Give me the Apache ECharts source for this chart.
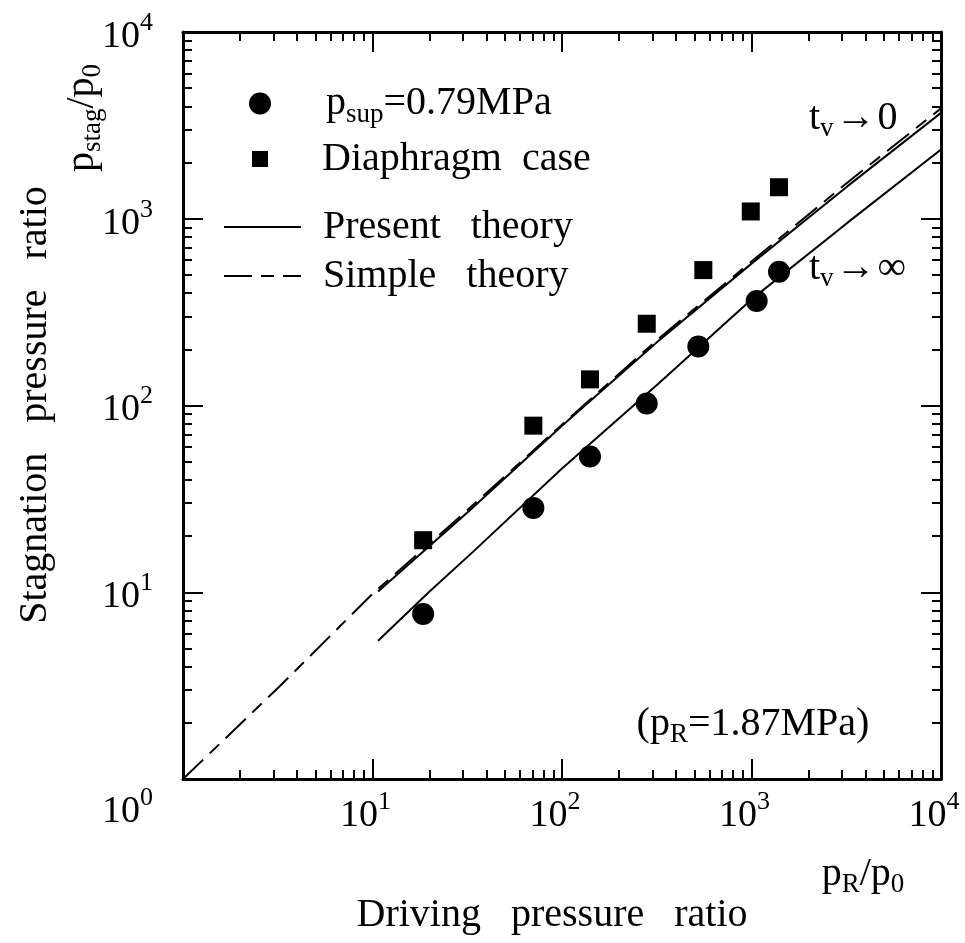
<!DOCTYPE html>
<html><head><meta charset="utf-8">
<script src="https://cdn.jsdelivr.net/npm/echarts@6/dist/echarts.min.js"></script>
<style>html,body{margin:0;padding:0;background:#fff}#c{width:965px;height:943px}</style>
</head><body><div id="c"></div>
<script>
// ---- data ----
const circleX = [18.5, 70.6, 140.5, 280, 524, 1065, 1397];
const circleY = [7.64, 28.3, 53.3, 102.5, 207, 363, 520];
const squareX = [18.5, 70.6, 140.5, 280, 557, 991, 1397];
const squareY = [19.0, 78, 138, 274, 531, 1094, 1475];
const simpleX = [1, 3.2, 10, 32, 100, 320, 1000, 3200, 10000];
const simpleY = [1, 3.1, 9.8, 27.8, 79, 226, 590, 1560, 3900];
const presentUpperX = [10.7, 32, 100, 320, 1000, 3200, 10000];
const presentUpperY = [10.1, 27, 78, 220, 575, 1490, 3690];
const presentLowerX = [10.7, 20, 34, 100, 320, 1000, 3200, 10000];
const presentLowerY = [5.5, 10.1, 16.5, 46, 130, 370, 950, 2350];
const majorTicks = [1, 10, 100, 1000, 10000];
const tickBase = '10';
const tickExps = ['0', '1', '2', '3', '4'];
const seriesNames = ['p_sup=0.79MPa', 'Diaphragm case', 'Present theory', 'Simple theory'];

const FONT = "'Liberation Serif','DejaVu Serif',serif";
const minorTicks = [];
for (const d of [1, 10, 100, 1000]) for (let k = 2; k <= 9; k++) minorTicks.push(k * d);
const zip = (xs, ys) => xs.map((x, i) => [x, ys[i]]);
const expOf = v => tickExps[Math.round(Math.log10(v))];

const axisBase = {type: 'log', logBase: 10, min: 1, max: 10000, splitLine: {show: false}, axisLabel: {show: false}, axisLine: {show: false}};
function majorAxis(pos, labelCfg) {
  return Object.assign({}, axisBase, {position: pos,
    axisLine: {show: true, onZero: false, lineStyle: {color: '#000', width: 3}},
    axisTick: {show: true, inside: true, length: 20, customValues: majorTicks, lineStyle: {color: '#000', width: 2}},
    axisLabel: labelCfg || {show: false}});
}
function minorAxis(pos) {
  return Object.assign({}, axisBase, {position: pos,
    axisTick: {show: true, inside: true, length: 9, customValues: minorTicks, lineStyle: {color: '#000', width: 2}}});
}
const tb = {fontFamily: FONT, fontSize: 38, lineHeight: 40, color: '#000'};
const ts = {fontFamily: FONT, fontSize: 26, lineHeight: 26, color: '#000'};
const xLabels = {show: true, customValues: majorTicks.slice(1), margin: 17, padding: [0, 14, 0, 0],
  formatter: v => `{b|${tickBase}}{s|${expOf(v)}}`,
  rich: {b: tb, s: Object.assign({}, ts, {padding: [0, 0, 28, 0]})}};
const yLabels = {show: true, customValues: majorTicks, margin: 30,
  formatter: v => { const e = expOf(v); return e === tickExps[0] ? `{bz|${tickBase}}{sz|${e}}` : `{b|${tickBase}}{s|${e}}`; },
  rich: {b: Object.assign({}, tb, {padding: [10, 0, 0, 0]}), s: Object.assign({}, ts, {padding: [10, 0, 28, 0]}),
         bz: Object.assign({}, tb, {padding: [66, 0, 0, 0]}), sz: Object.assign({}, ts, {padding: [66, 0, 28, 0]})}};

const rn = {fontFamily: FONT, fontSize: 40, lineHeight: 44, color: '#000'};
const rsub = {fontFamily: FONT, fontSize: 27, lineHeight: 27, color: '#000', padding: [22, 0, 0, 0]};
const rarrow = {fontFamily: FONT, fontSize: 40, lineHeight: 44, color: '#000', padding: [0, 2, 0, 2]};
const richText = {n: rn, sub: rsub, a: rarrow};

const legendText = {
  [seriesNames[0]]: '{n|p}{sub|sup}{n|=0.79MPa}',
  [seriesNames[1]]: '{n|Diaphragm  case}',
  [seriesNames[2]]: '{n|Present   theory}',
  [seriesNames[3]]: '{n|Simple   theory}'
};
function legendItem(name, left, top, w, h, pad, hideSymbol) {
  const l = {data: [name], left: left, top: top, itemWidth: w, itemHeight: h, orient: 'vertical', padding: 0,
    selectedMode: false, formatter: n => legendText[n],
    textStyle: {padding: [0, 0, 0, pad], rich: richText}};
  if (hideSymbol) l.itemStyle = {opacity: 0, borderWidth: 0};
  return l;
}

function txt(x, y, text, opts, align) {
  return Object.assign({type: 'text', x: x, y: y, style: {text: text, rich: richText, align: align || 'center', verticalAlign: 'middle', fill: '#000', font: `40px ${FONT}`}}, opts || {});
}

const option = {
  animation: false,
  backgroundColor: '#fff',
  grid: {left: 183, top: 27, right: 24, bottom: 164, containLabel: false},
  xAxis: [majorAxis('bottom', xLabels), minorAxis('bottom'), majorAxis('top'), minorAxis('top')],
  yAxis: [majorAxis('left', yLabels), minorAxis('left'), majorAxis('right'), minorAxis('right')],
  legend: [
    legendItem(seriesNames[0], 249, 79, 22, 22, 50, false),
    legendItem(seriesNames[1], 252, 139, 16, 16, 49, false),
    legendItem(seriesNames[2], 223, 207, 77, 14, 17, true),
    legendItem(seriesNames[3], 223, 256, 77, 14, 17, true)
  ],
  series: [
    {name: seriesNames[3], type: 'line', data: zip(simpleX, simpleY), symbol: 'none', z: 2,
     lineStyle: {color: '#000', width: 2, type: [28, 9, 13, 9]}, itemStyle: {color: '#000'}},
    {name: seriesNames[2], type: 'line', data: zip(presentUpperX, presentUpperY), symbol: 'none', z: 2,
     lineStyle: {color: '#000', width: 2, type: 'solid'}, itemStyle: {color: '#000'}},
    {name: seriesNames[2], type: 'line', data: zip(presentLowerX, presentLowerY), symbol: 'none', z: 2,
     lineStyle: {color: '#000', width: 2, type: 'solid'}, itemStyle: {color: '#000'}},
    {name: seriesNames[0], type: 'scatter', data: zip(circleX, circleY), symbol: 'circle', symbolSize: 22, z: 3,
     itemStyle: {color: '#000', opacity: 1}},
    {name: seriesNames[1], type: 'scatter', data: zip(squareX, squareY), symbol: 'rect', symbolSize: 18, z: 3,
     itemStyle: {color: '#000', opacity: 1}}
  ],
  graphic: [
    txt(35, 405, '{n|Stagnation   pressure   ratio}', {rotation: Math.PI / 2}),
    txt(82, 118, '{n|p}{sub|stag}{n|/p}{sub|0}', {rotation: Math.PI / 2}),
    txt(552, 915, '{n|Driving   pressure   ratio}'),
    txt(863, 874, '{n|p}{sub|R}{n|/p}{sub|0}'),
    txt(753, 724, '{n|(p}{sub|R}{n|=1.87MPa)}'),
    txt(809, 118, '{n|t}{sub|v}{a|→}{n|0}', null, 'left'),
    txt(809, 268, '{n|t}{sub|v}{a|→}{n|∞}', null, 'left')
  ]
};

const chart = echarts.init(document.getElementById('c'));
chart.setOption(option);
</script>
</body></html>
